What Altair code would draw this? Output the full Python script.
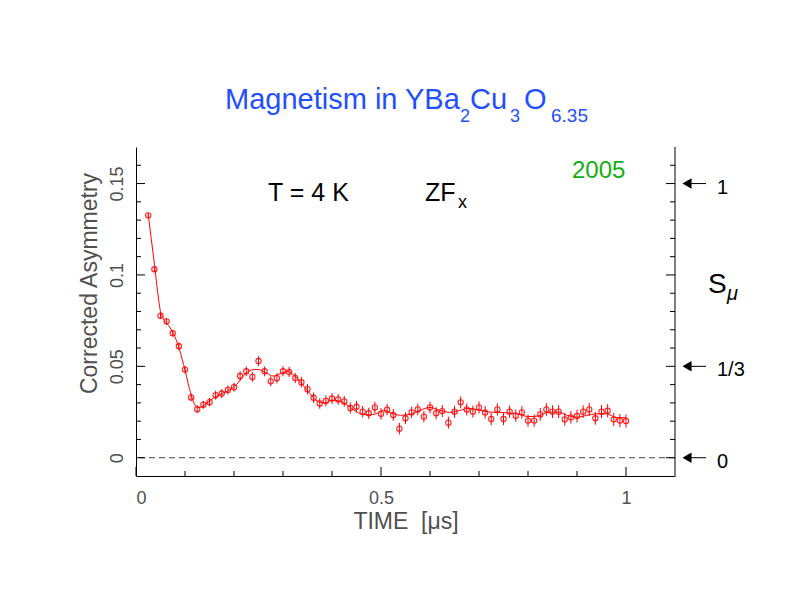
import altair as alt
import pandas as pd

# ---------------- data ----------------
time_us = [0.025, 0.0375, 0.05, 0.0625, 0.075, 0.0875, 0.1, 0.1125, 0.125, 0.1375,
           0.15, 0.1625, 0.175, 0.1875, 0.2, 0.2125, 0.225, 0.2375, 0.25, 0.2625,
           0.275, 0.2875, 0.3, 0.3125, 0.325, 0.3375, 0.35, 0.3625, 0.375, 0.3875,
           0.4, 0.4125, 0.425, 0.4375, 0.45, 0.4625, 0.475, 0.4875, 0.5, 0.5125,
           0.525, 0.5375, 0.55, 0.5625, 0.575, 0.5875, 0.6, 0.6125, 0.625, 0.6375,
           0.65, 0.6625, 0.675, 0.6875, 0.7, 0.7125, 0.725, 0.7375, 0.75, 0.7625,
           0.775, 0.7875, 0.8, 0.8125, 0.825, 0.8375, 0.85, 0.8625, 0.875, 0.8875,
           0.9, 0.9125, 0.925, 0.9375, 0.95, 0.9625, 0.975, 0.9875, 1.0]
asym = [0.1326, 0.1031, 0.0777, 0.0746, 0.0681, 0.0610, 0.0482, 0.0330, 0.0265, 0.0290,
        0.0304, 0.0342, 0.0351, 0.0371, 0.0386, 0.0447, 0.0473, 0.0442, 0.0529, 0.0473,
        0.0418, 0.0435, 0.0473, 0.0469, 0.0436, 0.0413, 0.0375, 0.0328, 0.0297, 0.0311,
        0.0324, 0.0319, 0.0308, 0.0272, 0.0279, 0.0252, 0.0243, 0.0275, 0.0240, 0.0263,
        0.0234, 0.0159, 0.0216, 0.0248, 0.0264, 0.0225, 0.0275, 0.0243, 0.0255, 0.0192,
        0.0252, 0.0303, 0.0264, 0.0252, 0.0275, 0.0248, 0.0212, 0.0264, 0.0212, 0.0252,
        0.0230, 0.0248, 0.0203, 0.0203, 0.0237, 0.0264, 0.0252, 0.0252, 0.0210, 0.0221,
        0.0228, 0.0252, 0.0264, 0.0216, 0.0252, 0.0257, 0.0210, 0.0203, 0.0201]
asym_err = [0.0012, 0.0015, 0.0017, 0.0018, 0.0018, 0.0019, 0.0020, 0.0021, 0.0022, 0.0022,
            0.0023, 0.0024, 0.0024, 0.0025, 0.0025, 0.0026, 0.0026, 0.0026, 0.0027, 0.0027,
            0.0027, 0.0028, 0.0028, 0.0028, 0.0028, 0.0029, 0.0029, 0.0029, 0.0029, 0.0030,
            0.0030, 0.0030, 0.0030, 0.0030, 0.0031, 0.0031, 0.0031, 0.0031, 0.0031, 0.0031,
            0.0032, 0.0032, 0.0032, 0.0032, 0.0032, 0.0032, 0.0032, 0.0033, 0.0033, 0.0033,
            0.0033, 0.0033, 0.0033, 0.0033, 0.0033, 0.0034, 0.0034, 0.0034, 0.0034, 0.0034,
            0.0034, 0.0034, 0.0034, 0.0034, 0.0035, 0.0035, 0.0035, 0.0035, 0.0035, 0.0035,
            0.0035, 0.0035, 0.0035, 0.0035, 0.0036, 0.0036, 0.0036, 0.0036, 0.0036]

fit_t = [0.025, 0.031, 0.038, 0.044, 0.05, 0.056, 0.063, 0.07, 0.076, 0.082, 0.088, 0.094,
         0.1, 0.106, 0.113, 0.12, 0.127, 0.135, 0.145, 0.16, 0.175, 0.19, 0.205, 0.22,
         0.235, 0.25, 0.265, 0.28, 0.295, 0.31, 0.325, 0.34, 0.355, 0.37, 0.385, 0.40,
         0.415, 0.43, 0.445, 0.46, 0.475, 0.49, 0.505, 0.52, 0.54, 0.56, 0.58, 0.60,
         0.62, 0.64, 0.66, 0.68, 0.70, 0.72, 0.74, 0.76, 0.78, 0.80, 0.82, 0.84, 0.86,
         0.88, 0.90, 0.92, 0.94, 0.96, 0.98, 1.0]
fit_a = [0.133, 0.120, 0.105, 0.091, 0.080, 0.076, 0.0735, 0.071, 0.068, 0.0645, 0.060, 0.054,
         0.048, 0.041, 0.034, 0.029, 0.0275, 0.028, 0.030, 0.033, 0.035, 0.037, 0.040, 0.045,
         0.048, 0.0483, 0.0465, 0.0447, 0.046, 0.0472, 0.0445, 0.040, 0.035, 0.031, 0.030, 0.0315,
         0.031, 0.029, 0.026, 0.0238, 0.0234, 0.024, 0.026, 0.0245, 0.0232, 0.0238, 0.026, 0.0275,
         0.026, 0.0248, 0.0258, 0.027, 0.026, 0.025, 0.0248, 0.0245, 0.024, 0.0225, 0.0228, 0.0248,
         0.025, 0.0232, 0.0222, 0.0232, 0.024, 0.024, 0.022, 0.0218]

x_major_ticks = [0.0, 0.5, 1.0]
x_minor_ticks = [0.1, 0.2, 0.3, 0.4, 0.6, 0.7, 0.8, 0.9]
y_major_ticks = [0.0, 0.05, 0.1, 0.15]
y_minor_ticks = [0.01, 0.02, 0.03, 0.04, 0.06, 0.07, 0.08, 0.09,
                 0.11, 0.12, 0.13, 0.14, 0.16]
s_levels = [0.15, 0.05, 0.0]
s_labels = ["1", "1/3", "0"]

# ---------------- chart ----------------
W, H = 539, 329
FONT = "Liberation Sans"
GREY = "#505050"
RED = "#ff0000"

xs = alt.Scale(domain=[0, 1.1], nice=False, zero=False)
ys = alt.Scale(domain=[-0.01, 0.17], nice=False, zero=False)

df = pd.DataFrame({"t": time_us, "a": asym, "e": asym_err})
df["lo"] = df["a"] - df["e"]
df["hi"] = df["a"] + df["e"]
fit = pd.DataFrame({"t": fit_t, "a": fit_a})
one = pd.DataFrame({"k": [0]})

x_axis = alt.Axis(values=x_major_ticks, format="~g", ticks=False, tickSize=0, grid=False,
                  domainColor="black", domainWidth=1, labelFont=FONT, labelFontSize=18,
                  labelColor=GREY, labelPadding=13,
                  title="TIME\u00a0\u00a0[μs]", titleFont=FONT,
                  titleFontSize=23, titleFontWeight="normal", titleColor=GREY, titlePadding=3)
y_axis = alt.Axis(values=y_major_ticks, format="~g", ticks=False, tickSize=0, grid=False,
                  domainColor="black", domainWidth=1, labelFont=FONT, labelFontSize=18,
                  labelColor=GREY, labelAngle=270, labelAlign="center",
                  labelBaseline="alphabetic", labelPadding=14,
                  title="Corrected Asymmetry", titleFont=FONT, titleFontSize=23,
                  titleFontWeight="normal", titleColor=GREY, titleAngle=270,
                  titleX=-40, titleY=136, titleAlign="center", titleBaseline="alphabetic")

errbars = alt.Chart(df).mark_rule(color=RED, strokeWidth=1).encode(
    x=alt.X("t:Q", scale=xs, axis=x_axis),
    y=alt.Y("lo:Q", scale=ys, axis=y_axis),
    y2="hi:Q",
)
points = alt.Chart(df).mark_point(shape="circle", filled=False, size=28, color=RED,
                                  strokeWidth=1.1, opacity=0.85).encode(
    x=alt.X("t:Q", scale=xs), y=alt.Y("a:Q", scale=ys))
fitline = alt.Chart(fit).mark_line(color=RED, strokeWidth=1, interpolate="monotone").encode(
    x=alt.X("t:Q", scale=xs), y=alt.Y("a:Q", scale=ys))

zero = alt.Chart(pd.DataFrame({"v": [0.0]})).mark_rule(
    color="#444444", strokeDash=[6, 4], strokeWidth=1).encode(y=alt.Y("v:Q", scale=ys))

right_dom = alt.Chart(one).mark_rule(color="black", strokeWidth=1).encode(
    x=alt.value(W), y=alt.value(0), y2=alt.value(H))

def yt(vals, x0, x1):
    return alt.Chart(pd.DataFrame({"v": vals})).mark_rule(color="black", strokeWidth=1).encode(
        y=alt.Y("v:Q", scale=ys), x=alt.value(x0), x2=alt.value(x1))

def xt(vals, length):
    return alt.Chart(pd.DataFrame({"v": vals})).mark_rule(color="black", strokeWidth=1).encode(
        x=alt.X("v:Q", scale=xs), y=alt.value(H), y2=alt.value(H - length))

ticks = [yt(y_major_ticks, 0, 9), yt(y_minor_ticks, 0, 5),
         yt(y_major_ticks, W - 9, W), yt(y_minor_ticks, W - 5, W),
         xt(x_major_ticks, 9), xt(x_minor_ticks, 5)]

sdf = pd.DataFrame({"v": s_levels, "lab": s_labels})
arrow_line = alt.Chart(sdf).mark_rule(color="black", strokeWidth=1).encode(
    y=alt.Y("v:Q", scale=ys), x=alt.value(550), x2=alt.value(570))
arrow_head = alt.Chart(sdf).mark_point(shape="triangle-left", filled=True, size=110,
                                       color="black", opacity=1).encode(
    y=alt.Y("v:Q", scale=ys), x=alt.value(551))
arrow_text = alt.Chart(sdf).mark_text(align="left", baseline="middle", dy=4, font=FONT,
                                      fontSize=20, color="black").encode(
    y=alt.Y("v:Q", scale=ys), x=alt.value(581), text="lab:N")

def txt(s, x, y, size, color="black", style="normal", baseline="alphabetic"):
    return alt.Chart(one).mark_text(text=s, align="left", baseline=baseline, font=FONT,
                                    fontSize=size, color=color, fontStyle=style).encode(
        x=alt.value(x), y=alt.value(y))

BLUE = "#1f4fff"
GREEN = "#10b010"
ox, oy = 136, 147
texts = [
    txt("Magnetism in YBa", 225 - ox, 109 - oy, 29, BLUE),
    txt("2", 460 - ox, 122 - oy, 18, BLUE),
    txt("Cu", 470 - ox, 109 - oy, 29, BLUE),
    txt("3", 510 - ox, 122 - oy, 18, BLUE),
    txt("O", 524 - ox, 109 - oy, 29, BLUE),
    txt("6.35", 551 - ox, 122 - oy, 19, BLUE),
    txt("T = 4 K", 268 - ox, 201 - oy, 25),
    txt("ZF", 425 - ox, 201 - oy, 25),
    txt("x", 458 - ox, 208 - oy, 18),
    txt("2005", 572 - ox, 178 - oy, 24, GREEN),
    txt("S", 708 - ox, 293 - oy, 28),
    txt("μ", 727 - ox, 300 - oy, 20, style="italic"),
]

chart = alt.layer(errbars, points, fitline, zero, right_dom, *ticks,
                  arrow_line, arrow_head, arrow_text, *texts).properties(
    width=W, height=H,
    autosize=alt.AutoSizeParams(type="none"),
    padding={"left": 128, "top": 139, "right": 117, "bottom": 116},
    background="white",
).configure_view(stroke="transparent")

chart.save("out.html", embed_options={"renderer": "svg", "actions": False})
